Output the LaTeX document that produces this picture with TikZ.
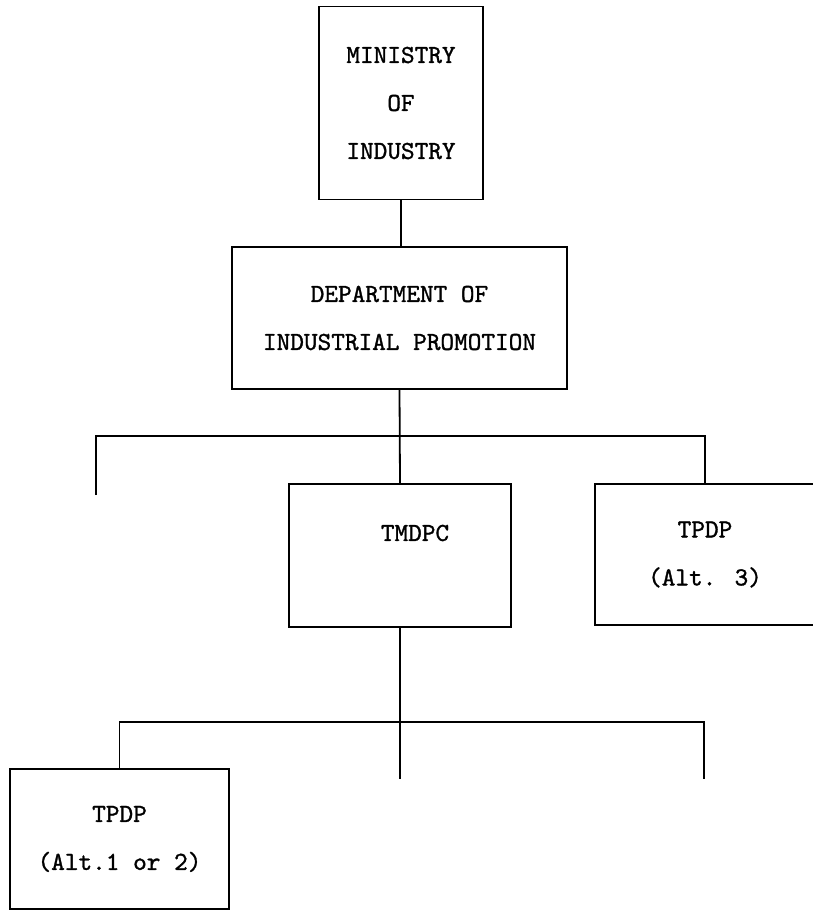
\documentclass[tikz,border=0pt]{standalone}
\usepackage{fontspec}
\newfontfamily\chartfont{lmmono10-regular.otf}[FakeBold=1.2]
\begin{document}
\begin{tikzpicture}[x=1pt, y=-1pt, line width=1.8pt,
        box/.style = {draw, rectangle, inner sep=0pt, align=center,
            font=\fontsize{26}{48}\selectfont\chartfont}]
    \useasboundingbox (0,0) rectangle (812,912);
    \node[box, minimum width=164pt, minimum height=193pt] (min) at (401,103) {MINISTRY\\OF\\INDUSTRY};
    \node[box, minimum width=335pt, minimum height=142pt] (dip) at (399.5,318) {DEPARTMENT OF\\INDUSTRIAL PROMOTION};
    \node[box, minimum width=222pt, minimum height=143pt] (tmdpc) at (400,555.5) {};
    \node[font=\fontsize{26}{48}\selectfont\chartfont] (tmdpct) at (415,533) {TMDPC};
    \node[box, minimum width=220pt, minimum height=141pt] (alt3) at (705,554.5) {TPDP\\(Alt. 3)};
    \node[box, minimum width=219pt, minimum height=140pt] (alt12) at (119.5,839) {TPDP\\(Alt.1 or 2)};
    \coordinate (j1) at (400,436);
    \coordinate (e1) at (96,495);
    \coordinate (j2) at (400,722);
    \coordinate (e2) at (400,779);
    \coordinate (e3) at (704,779);
    \draw (min.south) -- (min.south |- dip.north);
    \draw (dip.south) -- (tmdpc.north);
    \draw (e1) |- (j1) -| (alt3.north);
    \draw (tmdpc.south) -- (e2);
    \draw (alt12.north) |- (j2) -| (e3);
\end{tikzpicture}
\end{document}
